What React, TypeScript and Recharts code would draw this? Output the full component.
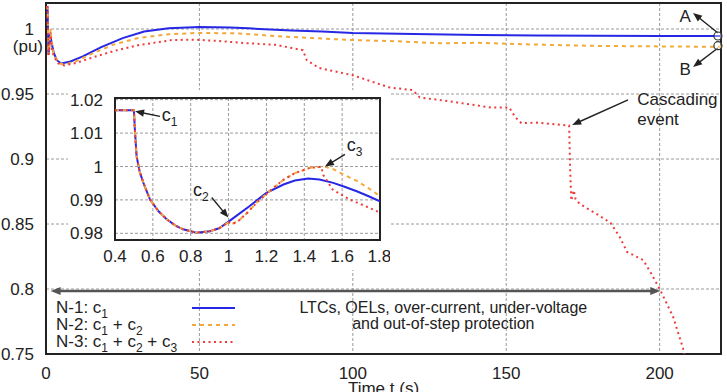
import React from "react";
import {
  LineChart,
  Line,
  XAxis,
  YAxis,
  CartesianGrid,
  ReferenceLine,
  ReferenceDot,
  ReferenceArea,
  Legend,
} from "recharts";

const FONT = "'Liberation Sans', Arial, Helvetica, sans-serif";
const INK = "#222";

type Pt = [number, number];

// main plot: time t (s) vs voltage (pu)
const n1Main: Pt[] = [
  [0, 1.0168], [0.5, 1.0168], [0.8, 0.98], [1.4, 0.9964], [1.8, 0.9896], [2.5, 0.982],
  [3.5, 0.976], [5, 0.9735], [8, 0.975], [12, 0.979], [18, 0.986], [25, 0.993],
  [32, 0.998], [40, 1.0005], [50, 1.0015], [60, 1.0012], [66, 1.0005], [80, 0.9988],
  [90, 0.998], [100, 0.997], [120, 0.9962], [141, 0.9953], [160, 0.995], [180, 0.9949],
  [200, 0.9947], [220, 0.9946],
];

const n2Main: Pt[] = [
  [0, 1.0168], [0.5, 1.0168], [0.8, 0.98], [1.0, 0.9833], [1.5, 1.0], [1.8, 0.9911],
  [2.5, 0.981], [4, 0.974], [6, 0.9725], [10, 0.9755], [15, 0.981], [22, 0.988],
  [30, 0.993], [40, 0.996], [50, 0.997], [63, 0.9966], [75, 0.9945], [87, 0.993],
  [100, 0.9915], [115, 0.9905], [128, 0.989], [141, 0.9894], [160, 0.988], [180, 0.987],
  [200, 0.9866], [220, 0.9863],
];

const n3Main: Pt[] = [
  [0, 1.0168], [0.5, 1.0168], [0.8, 0.98], [1.0, 0.9833], [1.5, 0.9975], [1.8, 0.9862],
  [2.5, 0.979], [4, 0.9735], [6, 0.972], [10, 0.974], [15, 0.978], [22, 0.983],
  [30, 0.9875], [41, 0.9915], [48, 0.9918], [55, 0.991], [66, 0.989], [75, 0.9878],
  [83.7, 0.9837], [85, 0.976], [89, 0.97], [100, 0.9644], [112, 0.955], [119.5, 0.953],
  [121.8, 0.9474], [134, 0.9435], [145, 0.9396], [151, 0.9396], [153, 0.932], [155, 0.9275],
  [160, 0.928], [170.5, 0.9257], [170.8, 0.895], [171.2, 0.868], [172, 0.876], [172.6, 0.869],
  [174, 0.8653], [180, 0.857], [184, 0.8508], [187, 0.84], [189.4, 0.8285], [194.6, 0.8223],
  [197, 0.813], [200.2, 0.7992], [204.4, 0.7785], [207.6, 0.7546], [208.5, 0.745],
];

const mainTTicks = [0, 50, 100, 150, 200];
const mainVTicks = [0.75, 0.8, 0.85, 0.9, 0.95, 1];

// inset: zoom on the first 1.8 s
const preFault: Pt[] = [
  [0.4, 1.0168], [0.5, 1.0168], [0.505, 1.011], [0.514, 1.0031], [0.53, 0.9985],
  [0.55, 0.9951], [0.585, 0.9901], [0.63, 0.9866], [0.673, 0.9842], [0.72, 0.9823],
  [0.76, 0.9812], [0.83, 0.9802], [0.9, 0.9806], [0.95, 0.9815],
];

const n1Inset: Pt[] = [
  [1.0, 0.9835], [1.05, 0.9856], [1.11, 0.9881], [1.2, 0.9921], [1.29, 0.9946],
  [1.35, 0.9958], [1.42, 0.9964], [1.48, 0.9961], [1.553, 0.9951], [1.62, 0.9938],
  [1.677, 0.9926], [1.74, 0.9911], [1.8, 0.9896],
];

const n2Inset: Pt[] = [
  [1.0, 0.9833], [1.02, 0.9828], [1.05, 0.9836], [1.1, 0.9862], [1.15, 0.9893],
  [1.2, 0.9918], [1.25, 0.9942], [1.29, 0.996], [1.35, 0.998], [1.43, 0.9996],
  [1.5, 1.0], [1.55, 0.9993], [1.59, 0.9981], [1.68, 0.9956], [1.74, 0.9935], [1.8, 0.9911],
];

const n3Inset: Pt[] = [
  [1.0, 0.9833], [1.02, 0.9828], [1.05, 0.9836], [1.1, 0.9862], [1.15, 0.9893],
  [1.2, 0.9918], [1.25, 0.9942], [1.29, 0.996], [1.35, 0.998], [1.43, 0.9996],
  [1.49, 0.9999], [1.5, 0.9975], [1.55, 0.9931], [1.6, 0.9914], [1.64, 0.9901],
  [1.72, 0.9882], [1.8, 0.9862],
];

const insetTTicks = [0.4, 0.6, 0.8, 1, 1.2, 1.4, 1.6, 1.8];
const insetVTicks = [0.98, 0.99, 1, 1.01, 1.02];

// text pieces: [text, isSubscript]
type Part = [string, boolean];

const series = [
  { name: "N-1", label: [["N-1: c", false], ["1", true]] as Part[], color: "#2727e6", dash: undefined as string | undefined, main: n1Main, inset: [...preFault, ...n1Inset] },
  { name: "N-2", label: [["N-2: c", false], ["1", true], [" + c", false], ["2", true]] as Part[], color: "#f2a93b", dash: "4 4", main: n2Main, inset: [...preFault, ...n2Inset] },
  { name: "N-3", label: [["N-3: c", false], ["1", true], [" + c", false], ["2", true], [" + c", false], ["3", true]] as Part[], color: "#ee3b3b", dash: "2 3.5", main: n3Main, inset: [...preFault, ...n3Inset] },
];

const toRows = (pts: Pt[]) => pts.map(([t, v]) => ({ t, v }));

const renderParts = (parts: Part[], subSize = 12) => {
  let down = false;
  return parts.map(([s, sub], i) => {
    let dy = 0;
    if (sub && !down) { dy = 5; down = true; }
    else if (!sub && down) { dy = -5; down = false; }
    return (
      <tspan key={i} dy={dy} fontSize={sub ? subSize : undefined}>{s}</tspan>
    );
  });
};

const textShape = (parts: Part[], anchor = "start", size = 17) => (p: any) => (
  <text x={p.cx} y={p.cy} textAnchor={anchor} fontSize={size} fontFamily={FONT} fill={INK}>
    {renderParts(parts)}
  </text>
);

const arrowShape = (both = false, color = INK, width = 1.4, head = 9) => (p: any) => {
  const { x1, y1, x2, y2 } = p;
  const a = Math.atan2(y2 - y1, x2 - x1);
  const hw = head * 0.4;
  const tri = (x: number, y: number, ang: number) => {
    const bx = x - head * Math.cos(ang);
    const by = y - head * Math.sin(ang);
    const nx = -Math.sin(ang) * hw;
    const ny = Math.cos(ang) * hw;
    return `${x},${y} ${bx + nx},${by + ny} ${bx - nx},${by - ny}`;
  };
  const sx = both ? x1 + head * 0.8 * Math.cos(a) : x1;
  const sy = both ? y1 + head * 0.8 * Math.sin(a) : y1;
  return (
    <g>
      <line x1={sx} y1={sy} x2={x2 - head * 0.8 * Math.cos(a)} y2={y2 - head * 0.8 * Math.sin(a)} stroke={color} strokeWidth={width} />
      <polygon points={tri(x2, y2, a)} fill={color} />
      {both && <polygon points={tri(x1, y1, a + Math.PI)} fill={color} />}
    </g>
  );
};

const MainYTick = (p: any) => {
  const { x, y, payload } = p;
  return (
    <g>
      <text x={x} y={y} dy={6} textAnchor="end" fontSize={17} fontFamily={FONT} fill={INK}>
        {payload.value}
      </text>
      {payload.value === 1 && (
        <text x={x + 9} y={y + 23} textAnchor="end" fontSize={17} fontFamily={FONT} fill={INK}>
          (pu)
        </text>
      )}
    </g>
  );
};

const LegendBox = () => (
  <svg width={200} height={56} style={{ display: "block" }}>
    {series.map((s, i) => (
      <g key={s.name}>
        <text x={6} y={16 + i * 17} fontSize={17} fontFamily={FONT} fill={INK}>
          {renderParts(s.label)}
        </text>
        <line x1={142} x2={185} y1={11 + i * 17} y2={11 + i * 17} stroke={s.color} strokeWidth={2} strokeDasharray={s.dash} />
      </g>
    ))}
  </svg>
);

const tickStyle = { fill: INK, fontSize: 17, fontFamily: FONT };

const App = () => (
  <div style={{ position: "absolute", left: 0, top: 0, width: 727, height: 392, background: "#fff", fontFamily: FONT }}>
    <LineChart width={727} height={392} margin={{ top: 3, right: 6, bottom: 0, left: 0 }}>
      <CartesianGrid stroke="#9a9a9a" strokeDasharray="3 2" />
      <XAxis
        type="number"
        dataKey="t"
        domain={[0, 220]}
        ticks={mainTTicks}
        allowDataOverflow
        axisLine={false}
        tickLine={false}
        tickSize={0}
        tickMargin={13}
        height={38}
        tick={tickStyle}
        label={{ value: "Time t (s)", position: "insideBottom", offset: -2, fill: INK, fontSize: 17, fontFamily: FONT }}
      />
      <YAxis
        type="number"
        domain={[0.75, 1.02]}
        ticks={mainVTicks}
        allowDataOverflow
        axisLine={false}
        tickLine={false}
        tickSize={0}
        tickMargin={12}
        width={46}
        tick={<MainYTick />}
      />
      <Legend
        layout="horizontal"
        verticalAlign="middle"
        align="center"
        wrapperStyle={{ left: 50, top: 297, width: 200, height: 56 }}
        content={<LegendBox />}
      />
      {series.map((s) => (
        <Line
          key={s.name}
          name={s.name}
          data={toRows(s.main)}
          dataKey="v"
          type="linear"
          dot={false}
          stroke={s.color}
          strokeWidth={2}
          strokeDasharray={s.dash}
          isAnimationActive={false}
        />
      ))}
      <ReferenceArea x1={0} x2={220} y1={0.75} y2={1.02} fill="none" stroke={INK} strokeWidth={2} ifOverflow="visible" />

      {/* protection span */}
      <ReferenceLine segment={[{ x: 1.5, y: 0.7985 }, { x: 200.2, y: 0.7985 }]} ifOverflow="visible" shape={arrowShape(true, "#555", 2.5, 10)} />
      <ReferenceDot x={129.5} y={0.7815} r={0} ifOverflow="visible" shape={textShape([["LTCs, OELs, over-current, under-voltage", false]], "middle", 16)} />
      <ReferenceDot x={129.5} y={0.7692} r={0} ifOverflow="visible" shape={textShape([["and out-of-step protection", false]], "middle", 16)} />

      {/* cascading event */}
      <ReferenceLine segment={[{ x: 189.7, y: 0.9454 }, { x: 171.5, y: 0.9262 }]} ifOverflow="visible" shape={arrowShape()} />
      <ReferenceDot x={192.7} y={0.9415} r={0} ifOverflow="visible" shape={textShape([["Cascading", false]])} />
      <ReferenceDot x={192.7} y={0.926} r={0} ifOverflow="visible" shape={textShape([["event", false]])} />

      {/* A / B end points */}
      <ReferenceDot x={219} y={0.9946} r={4} fill="#fff" fillOpacity={0.4} stroke="#333" strokeWidth={1.2} ifOverflow="visible" />
      <ReferenceDot x={219} y={0.9872} r={4} fill="#fff" fillOpacity={0.4} stroke="#333" strokeWidth={1.2} ifOverflow="visible" />
      <ReferenceLine segment={[{ x: 219, y: 0.9969 }, { x: 210.9, y: 1.0123 }]} ifOverflow="visible" shape={arrowShape()} />
      <ReferenceLine segment={[{ x: 219, y: 0.9854 }, { x: 210.9, y: 0.9708 }]} ifOverflow="visible" shape={arrowShape()} />
      <ReferenceDot x={208.3} y={1.0054} r={0} ifOverflow="visible" shape={textShape([["A", false]], "middle")} />
      <ReferenceDot x={208.3} y={0.9646} r={0} ifOverflow="visible" shape={textShape([["B", false]], "middle")} />
    </LineChart>

    <div style={{ position: "absolute", left: 68, top: 90, width: 322, height: 180, background: "#fff" }}>
      <LineChart width={322} height={180} margin={{ top: 8, right: 10, bottom: 0, left: 0 }}>
        <CartesianGrid stroke="#9a9a9a" strokeDasharray="3 2" />
        <XAxis
          type="number"
          dataKey="t"
          domain={[0.4, 1.8]}
          ticks={insetTTicks}
          allowDataOverflow
          axisLine={false}
          tickLine={false}
          tickSize={0}
          tickMargin={10}
          height={30}
          tick={tickStyle}
        />
        <YAxis
          type="number"
          domain={[0.978, 1.0205]}
          ticks={insetVTicks}
          allowDataOverflow
          axisLine={false}
          tickLine={false}
          tickSize={0}
          tickMargin={12}
          width={47}
          tick={tickStyle}
        />
        {series.map((s) => (
          <Line
            key={s.name}
            name={s.name}
            data={toRows(s.inset)}
            dataKey="v"
            type="linear"
            dot={false}
            stroke={s.color}
            strokeWidth={2}
            strokeDasharray={s.dash}
            isAnimationActive={false}
          />
        ))}
        <ReferenceArea x1={0.4} x2={1.8} y1={0.978} y2={1.0205} fill="none" stroke={INK} strokeWidth={2} ifOverflow="visible" />

        <ReferenceLine segment={[{ x: 0.638, y: 1.015 }, { x: 0.506, y: 1.0165 }]} ifOverflow="visible" shape={arrowShape()} />
        <ReferenceDot x={0.647} y={1.0135} r={0} ifOverflow="visible" shape={textShape([["c", false], ["1", true]], "start", 18)} />
        <ReferenceLine segment={[{ x: 0.911, y: 0.9907 }, { x: 0.999, y: 0.9847 }]} ifOverflow="visible" shape={arrowShape()} />
        <ReferenceDot x={0.812} y={0.9913} r={0} ifOverflow="visible" shape={textShape([["c", false], ["2", true]], "start", 18)} />
        <ReferenceLine segment={[{ x: 1.615, y: 1.0036 }, { x: 1.509, y: 1.0 }]} ifOverflow="visible" shape={arrowShape()} />
        <ReferenceDot x={1.624} y={1.0046} r={0} ifOverflow="visible" shape={textShape([["c", false], ["3", true]], "start", 18)} />
      </LineChart>
    </div>
  </div>
);

export default App;
